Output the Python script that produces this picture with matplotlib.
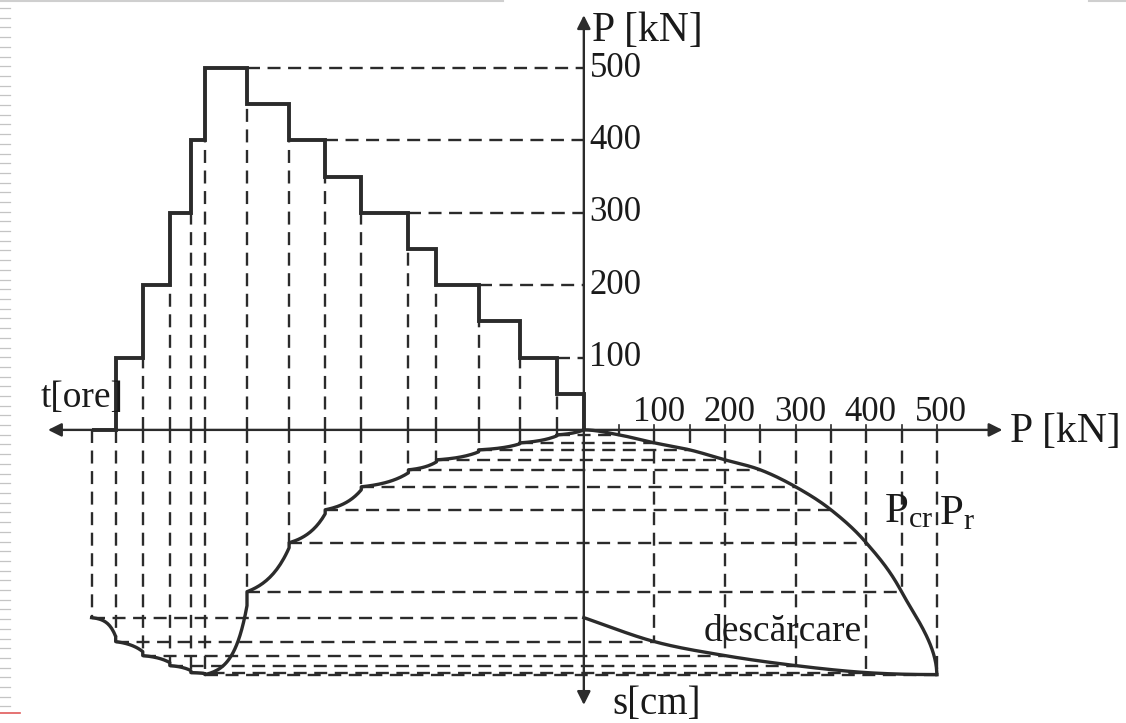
import numpy as np
import matplotlib.pyplot as plt
from matplotlib.lines import Line2D

plt.rcParams['font.family'] = ['Liberation Serif', 'DejaVu Serif']
plt.rcParams['mathtext.fontset'] = 'custom'
plt.rcParams['mathtext.rm'] = 'Liberation Serif'

## data ##
# load steps, time runs to the left [hours from start of the test]
t_bounds = [0, 2.7, 6.4, 10.5, 14.7, 17.5, 22.2, 25.8, 29.4, 33.6, 37.8, 39.2, 41.3, 44.0, 46.7, 49.1]
step_load = [50, 100, 150, 200, 250, 300, 350, 400, 450, 500, 400, 300, 200, 100, 0]
# settlement [cm] right after each load change / at the end of each step
s_start = [0.00, 0.06, 0.14, 0.22, 0.32, 0.43, 0.60, 0.84, 1.18, 1.76, 2.44, 2.41, 2.33, 2.22, 2.07]
s_end = [0.05, 0.13, 0.20, 0.30, 0.40, 0.57, 0.80, 1.13, 1.62, 2.45, 2.43, 2.36, 2.26, 2.12, 1.88]
p_ticks = [100, 200, 300, 400, 500]
p_grid = [50, 100, 150, 200, 250, 300, 350, 400, 450, 500]

INK = '#2b2b2b'
TXT = '#1a1a1a'
TX = 14.2    # plot units per hour
SY = 138.0   # plot units per cm
DASH = (0, (5.5, 3.2))


def creep(ta, tb, sa, sb, k=2.0, n=25):
    u = np.linspace(0, 1, n)
    f = (1 - np.exp(-k * u)) / (1 - np.exp(-k))
    return ta + (tb - ta) * u, sa + (sb - sa) * f


def hermite(px, py, d0=None, d1=None, n=40):
    p = np.column_stack([px, py]).astype(float)
    m = np.empty_like(p)
    m[1:-1] = (p[2:] - p[:-2]) / 2
    m[0] = p[1] - p[0]
    m[-1] = p[-1] - p[-2]
    if d0 is not None:
        m[0] = np.asarray(d0, float) * np.hypot(*(p[1] - p[0]))
    if d1 is not None:
        m[-1] = np.asarray(d1, float) * np.hypot(*(p[-1] - p[-2]))
    u = np.linspace(0, 1, n)[:, None]
    h00 = 2*u**3 - 3*u**2 + 1
    h10 = u**3 - 2*u**2 + u
    h01 = -2*u**3 + 3*u**2
    h11 = u**3 - u**2
    out = np.vstack([h00*p[i] + h10*m[i] + h01*p[i+1] + h11*m[i+1] for i in range(len(p) - 1)])
    return out[:, 0], out[:, 1]


fig = plt.figure(figsize=(11.26, 7.23), dpi=100)
ax = fig.add_axes([0, 0, 1, 1])
ax.set_xlim(-827, 768)
ax.set_ylim(-405, 594)
ax.axis('off')

tb = np.array(t_bounds)
dash_kw = dict(color=INK, lw=1.7, ls=DASH)

## load - time steps (upper left) ##
ax.stairs(step_load[::-1], (-tb * TX)[::-1], baseline=0, color=INK, lw=2.8)

# upper horizontal guides to the load axis
for P in p_ticks:
    i = step_load.index(P)
    ax.plot([-tb[i] * TX, 0], [P, P], **dash_kw)

# vertical guides through the step changes
for i in range(1, len(tb)):
    x = -tb[i] * TX
    if i < len(step_load):
        low = min(step_load[i - 1], step_load[i])
        if low > 0:
            ax.plot([x, x], [0, low], **dash_kw)
        s_meet = min(s_end[i - 1], s_start[i])
    else:
        s_meet = s_end[i - 1]
    ax.plot([x, x], [0, -s_meet * SY], **dash_kw)

## settlement - time (lower left) ##
tx, sy = [], []
for i in range(len(step_load)):
    k = 3.2 if step_load[i] in (500, 0) else 1.8
    t, s = creep(tb[i], tb[i + 1], s_start[i], s_end[i], k=k)
    tx.extend(t)
    sy.extend(s)
ax.plot(-np.array(tx) * TX, -np.array(sy) * SY, color=INK, lw=2.4)

# horizontal guides from the end of each step to the P-s curve
for i in range(len(step_load)):
    ax.plot([-tb[i + 1] * TX, step_load[i]], [-s_end[i] * SY] * 2, **dash_kw)

## load - settlement (lower right) ##
load_P = [0] + step_load[:10]
load_s = [0] + s_end[:10]
unl_P = step_load[9:]
unl_s = s_end[9:]

s_down = {}
for P, s in zip(load_P, load_s):
    s_down[P] = s
for P, s in zip(unl_P[1:-1], unl_s[1:-1]):
    s_down[P] = s
for P in p_grid:
    ax.plot([P, P], [0, -s_down[P] * SY], **dash_kw)
    ax.plot([P, P], [0, 7], color=INK, lw=1.2)

x, y = hermite(load_P, -np.array(load_s) * SY, d0=(1, 0), d1=(0, -1))
ax.plot(x, y, color=INK, lw=2.4)
x, y = hermite(unl_P, -np.array(unl_s) * SY, d0=(-1, 0))
ax.plot(x, y, color=INK, lw=2.4)

## axes with arrows ##
arr = dict(arrowstyle='-|>', mutation_scale=20, lw=1.7, color=INK, shrinkA=0, shrinkB=0)
for tip in [(0, 573), (0, -380), (-759, 0), (593, 0)]:
    ax.annotate('', xy=tip, xytext=(0, 0), arrowprops=arr)

## texts ##
fs = 25
for P in p_ticks:
    ax.text(8, P, str(P), ha='left', va='center', fontsize=fs, color=TXT)
    ax.text(P + 6, 12, str(P), ha='center', va='baseline', fontsize=fs, color=TXT)
ax.text(11, 552, 'P [kN]', ha='left', va='center', fontsize=30, color=TXT)
ax.text(603, -3, 'P [kN]', ha='left', va='center', fontsize=30, color=TXT)
ax.text(-770, 44, 't[ore]', ha='left', va='center', fontsize=27, color=TXT)
ax.text(40, -380, 's[cm]', ha='left', va='center', fontsize=28, color=TXT)
ax.text(169, -279, 'descărcare', ha='left', va='center', fontsize=27, color=TXT)
ax.text(425, -127, r'$\mathregular{P_{cr}}$', ha='left', va='baseline', fontsize=31, color=TXT)
ax.text(503, -131, r'$\mathregular{P_{r}}$', ha='left', va='baseline', fontsize=31, color=TXT)

## scan / slide artefacts ##
for yy in np.arange(8, 712, 9.7):
    fig.add_artist(Line2D([0, 10 / 1126], [1 - yy / 723] * 2, color='#c4c4c4', lw=0.9))
fig.add_artist(Line2D([0, 20 / 1126], [1 - 713 / 723] * 2, color='#e05a5a', lw=1.2))
fig.add_artist(Line2D([0, 503 / 1126], [0.999, 0.999], color='#cfcfcf', lw=1.5))
fig.add_artist(Line2D([1089 / 1126, 1], [0.999, 0.999], color='#cfcfcf', lw=1.5))

fig.savefig('out.png', dpi=100, facecolor='white')
